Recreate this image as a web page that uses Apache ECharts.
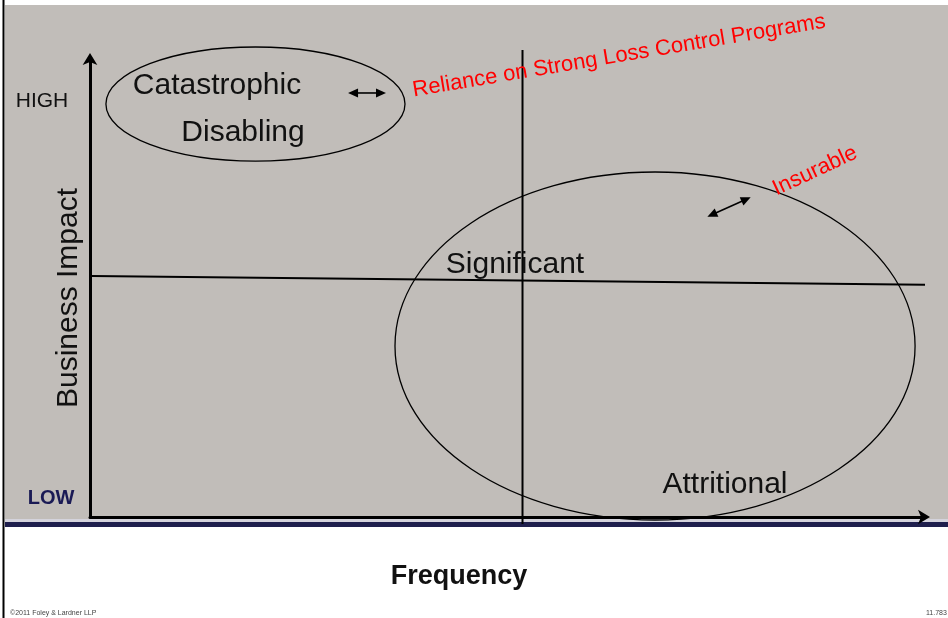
<!DOCTYPE html>
<html>
<head>
<meta charset="utf-8">
<script src="https://cdn.jsdelivr.net/npm/echarts@6/dist/echarts.min.js"></script>
<style>html,body{margin:0;padding:0;background:#fff}#c{width:948px;height:618px}</style>
</head>
<body>
<div id="c"></div>
<script>
// ---- Data (frequency 0..100 on x, business impact 0..100 on y) ----
const zoneNames = ['Catastrophic / Disabling', 'Significant / Attritional'];
const zoneCenterFreq = [19.84, 67.75];
const zoneCenterImpact = [90.17, 37.34];
const zoneHalfFreq = [17.93, 31.18];
const zoneHalfImpact = [12.45, 37.99];

const dividerFreq = [51.86, 51.86];
const dividerFreqImpact = [101.97, -1.53];
const dividerImpactFreq = [0.24, 101.68];
const dividerImpact = [52.62, 50.66];

const arrowStartFreq = [30.94, 74.03];
const arrowStartImpact = [92.58, 65.57];
const arrowEndFreq = [35.49, 79.22];
const arrowEndImpact = [92.58, 69.80];

const chart = echarts.init(document.getElementById('c'), null, {renderer: 'canvas'});
const FONT = 'Liberation Sans, Arial, sans-serif';

const ellipseData = zoneNames.map((n, i) => [zoneCenterFreq[i], zoneCenterImpact[i], zoneHalfFreq[i], zoneHalfImpact[i]]);
const arrowData = arrowStartFreq.map((v, i) => [v, arrowStartImpact[i], arrowEndFreq[i], arrowEndImpact[i]]);

function txt(text, x, y, size, opts) {
  opts = opts || {};
  return {
    type: 'text', x: x, y: y, rotation: opts.rot || 0, z: 50,
    style: {
      text: text, fill: opts.color || '#111', font: (opts.bold ? 'bold ' : '') + size + 'px ' + FONT,
      textAlign: opts.align || 'center', textVerticalAlign: 'middle'
    }
  };
}
const deg = Math.PI / 180;

chart.setOption({
  animation: false,
  backgroundColor: '#ffffff',
  grid: {left: 90, right: 24, top: 59, bottom: 101},
  xAxis: {
    type: 'value', min: 0, max: 100,
    axisLine: {show: true, onZero: false, symbol: ['none', 'arrow'], symbolSize: [11, 12], symbolOffset: [0, 6], lineStyle: {color: '#000', width: 3}},
    axisTick: {show: false}, axisLabel: {show: false}, splitLine: {show: false}
  },
  yAxis: {
    type: 'value', min: 0, max: 100,
    axisLine: {show: true, onZero: false, symbol: ['none', 'arrow'], symbolSize: [11, 12], symbolOffset: [0, 6], lineStyle: {color: '#000', width: 3}},
    axisTick: {show: false}, axisLabel: {show: false}, splitLine: {show: false}
  },
  graphic: [
    {type: 'rect', z: -10, shape: {x: 5, y: 5, width: 943, height: 514}, style: {fill: '#c1bdb9'}},
    {type: 'rect', z: -10, shape: {x: 5, y: 519, width: 943, height: 3}, style: {fill: '#d4d3dc'}},
    {type: 'rect', z: -10, shape: {x: 5, y: 522, width: 943, height: 5}, style: {fill: '#1f1f4d'}},
    {type: 'rect', z: 60, shape: {x: 2.5, y: 0, width: 2, height: 618}, style: {fill: '#000'}},
    txt('HIGH', 42, 101, 21),
    txt('LOW', 51, 498, 20, {bold: true, color: '#1a1a55'}),
    txt('Business Impact', 69, 298, 30, {rot: 90 * deg}),
    txt('Frequency', 459, 577, 27, {bold: true}),
    txt('Catastrophic', 217, 86, 30),
    txt('Disabling', 243, 133, 30),
    txt('Significant', 515, 265, 30),
    txt('Attritional', 725, 485, 30),
    txt('Reliance on Strong Loss Control Programs', 619, 56, 22, {rot: 9.5 * deg, color: '#ff0000'}),
    txt('Insurable', 815, 171, 22, {rot: 25 * deg, color: '#ff0000'}),
    txt('\u00a92011 Foley & Lardner LLP', 10, 613, 7, {align: 'left', color: '#444'}),
    txt('11.783', 926, 613, 7, {align: 'left', color: '#444'})
  ],
  series: [
    {
      type: 'line', clip: false, symbol: 'none', silent: true,
      data: dividerFreq.map((v, i) => [v, dividerFreqImpact[i]]),
      lineStyle: {color: '#000', width: 2}, z: 5
    },
    {
      type: 'line', clip: false, symbol: 'none', silent: true,
      data: dividerImpactFreq.map((v, i) => [v, dividerImpact[i]]),
      lineStyle: {color: '#000', width: 2}, z: 5
    },
    {
      type: 'custom', clip: false, silent: true, z: 6,
      data: ellipseData,
      renderItem: function (params, api) {
        const c = api.coord([api.value(0), api.value(1)]);
        const s = api.size([api.value(2), api.value(3)]);
        return {
          type: 'ellipse',
          shape: {cx: c[0], cy: c[1], rx: s[0], ry: s[1]},
          style: {fill: 'none', stroke: '#000', lineWidth: 1.3}
        };
      }
    },
    {
      type: 'custom', clip: false, silent: true, z: 7,
      data: arrowData,
      renderItem: function (params, api) {
        const a = api.coord([api.value(0), api.value(1)]);
        const b = api.coord([api.value(2), api.value(3)]);
        const dx = b[0] - a[0], dy = b[1] - a[1];
        const L = Math.sqrt(dx * dx + dy * dy), ux = dx / L, uy = dy / L;
        const px = -uy, py = ux, hl = 10, hw = 4.5;
        function head(tip, dir) {
          const bx = tip[0] - dir * ux * hl, by = tip[1] - dir * uy * hl;
          return {type: 'polygon', shape: {points: [tip, [bx + px * hw, by + py * hw], [bx - px * hw, by - py * hw]]}, style: {fill: '#000'}};
        }
        return {
          type: 'group',
          children: [
            {type: 'line', shape: {x1: a[0] + ux * 6, y1: a[1] + uy * 6, x2: b[0] - ux * 6, y2: b[1] - uy * 6}, style: {stroke: '#000', lineWidth: 1.6}},
            head(a, -1), head(b, 1)
          ]
        };
      }
    }
  ]
});
</script>
</body>
</html>
